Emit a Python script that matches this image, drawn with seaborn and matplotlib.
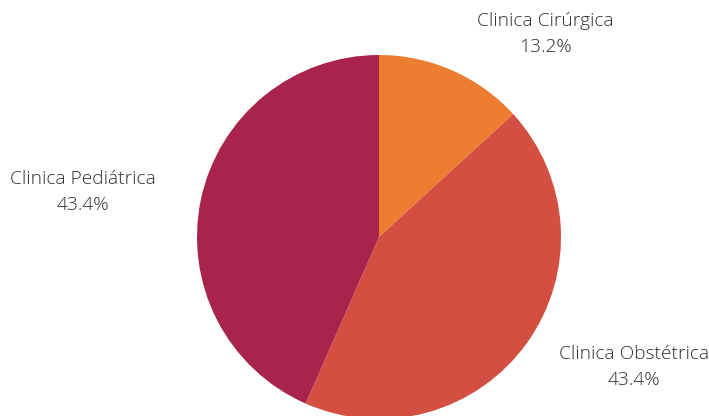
import matplotlib
matplotlib.use("Agg")
import matplotlib.pyplot as plt
import seaborn as sns

categories = ["Clinica Cirúrgica", "Clinica Obstétrica", "Clinica Pediátrica"]
values = [13.2, 43.4, 43.4]
colors = ["#ED7D31", "#D34F41", "#A8244A"]

sns.set_theme(style="white")
plt.rcParams['font.family'] = ['Open Sans', 'DejaVu Sans']

W, H = 709, 416
fig = plt.figure(figsize=(W / 100, H / 100), dpi=100)
cx, cy, r = 379, 237, 182
ax = fig.add_axes([(cx - r) / W, (H - cy - r) / H, 2 * r / W, 2 * r / H])
wedges, _ = ax.pie(values, colors=sns.color_palette(colors), startangle=90,
                   counterclock=False, radius=1.0,
                   wedgeprops=dict(linewidth=0))
ax.set_xlim(-1, 1)
ax.set_ylim(-1, 1)
ax.set_aspect('equal')
ax.axis('off')

# label anchor positions in pixel offsets from center (layout)
label_px = [(545, 34), (634, 367), (83, 192)]
for (px, py), name, v in zip(label_px, categories, values):
    x = (px - cx) / r
    y = (cy - py) / r
    ax.text(x, y, f"{name}\n{v:.1f}%", ha='center', va='center',
            fontsize=13.8, color='#2e2e2e', fontweight='light',
            linespacing=1.53, clip_on=False)

fig.savefig("out.png", dpi=100)
